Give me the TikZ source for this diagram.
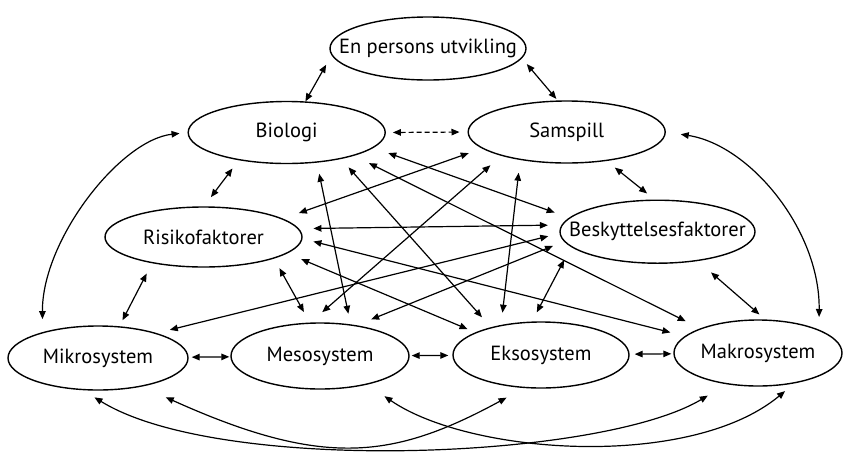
\documentclass[tikz,border=0pt]{standalone}
\usepackage{fontspec}
\setmainfont{PT Sans}
\usetikzlibrary{arrows.meta,shapes.geometric}
\newcommand{\lbl}[1]{\makebox[0pt][c]{#1}}
\begin{document}
\begin{tikzpicture}[x=1pt,y=-1pt,
  el/.style={draw, ellipse, line width=1.4pt, inner sep=0pt,
    font=\fontsize{20.5}{24}\selectfont},
  con/.style={line width=1.2pt,
    {Triangle[length=8pt,width=6.5pt]}-{Triangle[length=8pt,width=6.5pt]}},
]
\useasboundingbox (0,0) rectangle (843,459);

% nodes
\node[el, minimum width=196pt, minimum height=63pt] (ep)  at (428,48.5)  {\lbl{En persons utvikling}};
\node[el, minimum width=197pt, minimum height=62pt] (bio) at (286.7,132.5) {\lbl{Biologi}};
\node[el, minimum width=197pt, minimum height=62pt] (sam) at (566.7,132) {\lbl{Samspill}};
\node[el, minimum width=197pt, minimum height=60pt] (ris) at (203.5,237) {\lbl{Risikofaktorer}};
\node[el, minimum width=195pt, minimum height=63pt] (bes) at (657.5,231.7) {\lbl{Beskyttelsesfaktorer}};
\node[el, minimum width=180pt, minimum height=64pt] (mik) at (98,358) {\lbl{Mikrosystem}};
\node[el, minimum width=178pt, minimum height=66pt] (mes) at (320,356) {\lbl{Mesosystem}};
\node[el, minimum width=176pt, minimum height=66pt] (eks) at (541,355) {\lbl{Eksosystem}};
\node[el, minimum width=168pt, minimum height=66pt] (mak) at (758,353) {\lbl{Makrosystem}};

% top connectors
\draw[con, shorten <=10.9pt] (ep.184.3) -- (bio.59.3);
\draw[con, shorten <=7.5pt, shorten >=2pt] (ep.-6.7) -- (sam.106.7);
\draw[con, dash pattern=on 5pt off 3pt, shorten <=7pt, shorten >=8pt] (bio.east) -- (sam.west);
\draw[con, shorten <=10.3pt, shorten >=11.5pt] (bio.210.6) -- (ris.89);
\draw[con, shorten <=10.5pt, shorten >=9.7pt] (sam.-36.8) -- (bes.95.2);
\draw[con, shorten <=11.6pt, shorten >=6.7pt] (ris.207.3) -- (mik.56.2);
\draw[con, shorten <=17.3pt, shorten >=7.6pt] (bes.-36.2) -- (mak.78.5);

% side curves
\draw[con, shorten <=13pt, shorten >=8pt] (mik.155.9) .. controls (42,240) and (120,140) .. (bio.180);
\draw[con, shorten <=15pt, shorten >=12.6pt] (sam.0) .. controls (750,145) and (820,230) .. (mak.21.3);

% crossing connectors
\draw[con, shorten <=14pt, shorten >=16.8pt] (sam.191.1) -- (ris.13.4);
\draw[con, shorten <=15.6pt, shorten >=15.3pt] (bio.-10.1) -- (bes.171.2);
\draw[con, shorten <=16.5pt, shorten >=16pt] (bio.-19.4) -- (mak.157.9);
\draw[con, shorten <=11.2pt, shorten >=13.3pt] (bio.-26.3) -- (eks.151.6);
\draw[con, shorten <=11.3pt, shorten >=10.8pt] (bio.-45.5) -- (mes.46.9);
\draw[con, shorten <=14.4pt, shorten >=15.7pt] (sam.200.2) -- (mes.106.7);
\draw[con, shorten <=12.8pt, shorten >=12.3pt] (sam.211.1) -- (eks.143);
\draw[con, shorten <=14.5pt, shorten >=13.6pt] (ris.5.5) -- (bes.176.6);
\draw[con, shorten <=11.2pt, shorten >=14.8pt] (ris.-1.9) -- (mak.167.4);
\draw[con, shorten <=14.8pt, shorten >=8.4pt] (ris.-11.1) -- (eks.161.9);
\draw[con, shorten <=11pt, shorten >=12pt] (ris.-17.3) -- (mes.107.2);
\draw[con, shorten <=11.5pt, shorten >=13.5pt] (bes.181.5) -- (mik.23.5);
\draw[con, shorten <=11.8pt, shorten >=15.6pt] (bes.186.9) -- (mes.40.5);
\draw[con, shorten <=14.8pt, shorten >=10.3pt] (bes.190.1) -- (eks.105);

% bottom row
\draw[con, shorten <=3pt, shorten >=1pt] (mik) -- (mes);
\draw[con, shorten <=2pt, shorten >=4pt] (mes) -- (eks);
\draw[con, shorten <=5pt, shorten >=2pt] (eks) -- (mak);

% bottom curves
\draw[con, shorten <=13.5pt, shorten >=22pt] (mik.245.5) .. controls (219.5,474.6) and (600,460) .. (mak.225);
\draw[con, shorten <=26pt, shorten >=20pt] (mik.-33.2) .. controls (323.3,468.3) and (392.9,459.3) .. (eks.243.2);
\draw[con, shorten <=20.5pt, shorten >=12pt] (mes.-31.9) .. controls (470,455) and (690,470) .. (mak.-40);
\end{tikzpicture}
\end{document}
